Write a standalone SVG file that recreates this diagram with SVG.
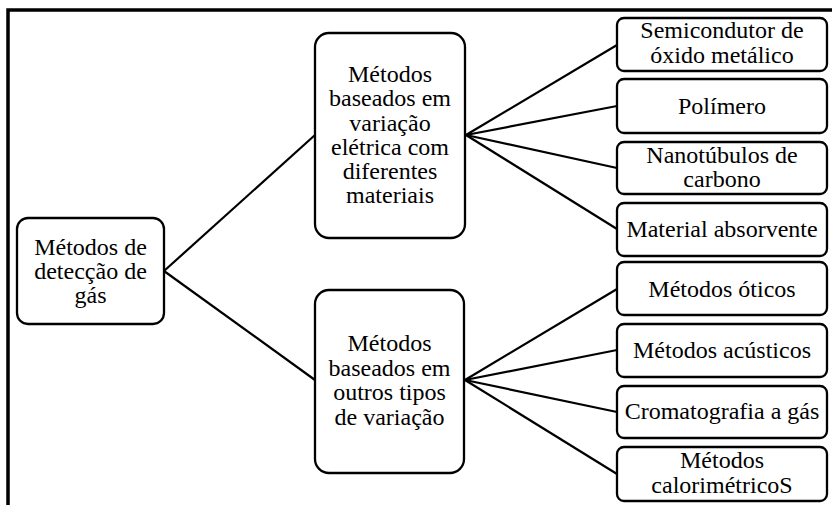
<svg xmlns="http://www.w3.org/2000/svg" width="832" height="505" viewBox="0 0 832 505" font-family="Liberation Serif, Times New Roman, serif">
  <style>
    .box { fill: #ffffff; stroke: #000000; stroke-width: 2.3; }
    .edge { fill: none; stroke: #000000; stroke-width: 2.2; }
    .frame { fill: none; stroke: #000000; stroke-width: 3.5; }
    .lbl { font-size: 24px; fill: #000000; text-anchor: middle; }
  </style>
  <rect width="832" height="505" fill="#ffffff"/>

  <!-- outer frame: top and left edges only -->
  <path class="frame" d="M8 505 V10 H832"/>

  <!-- connectors -->
  <g id="connectors">
    <line class="edge" x1="164" y1="271" x2="315" y2="135"/>
    <line class="edge" x1="164" y1="271" x2="315" y2="380"/>
    <line class="edge" x1="466" y1="135" x2="617" y2="45"/>
    <line class="edge" x1="466" y1="135" x2="617" y2="106"/>
    <line class="edge" x1="466" y1="135" x2="617" y2="168"/>
    <line class="edge" x1="466" y1="135" x2="617" y2="229"/>
    <line class="edge" x1="465" y1="380" x2="617" y2="289"/>
    <line class="edge" x1="465" y1="380" x2="617" y2="350"/>
    <line class="edge" x1="465" y1="380" x2="617" y2="412"/>
    <line class="edge" x1="465" y1="380" x2="617" y2="474"/>
  </g>

  <!-- root -->
  <g id="root" class="lbl" font-family="Liberation Serif, serif">
    <rect class="box" x="17" y="218" width="147" height="106" rx="11"/>
    <text x="90.5" y="255">Métodos de</text>
    <text x="90.5" y="279">detecção de</text>
    <text x="90.5" y="303">gás</text>
  </g>

  <!-- second level -->
  <g id="eletrica" class="lbl" font-family="Liberation Serif, serif">
    <rect class="box" x="315" y="33" width="150" height="205" rx="14"/>
    <text x="390" y="82">Métodos</text>
    <text x="390" y="106">baseados em</text>
    <text x="390" y="130.5">variação</text>
    <text x="390" y="154.5">elétrica com</text>
    <text x="390" y="179">diferentes</text>
    <text x="390" y="203">materiais</text>
  </g>
  <g id="outros" class="lbl" font-family="Liberation Serif, serif">
    <rect class="box" x="315" y="290" width="149" height="183" rx="14"/>
    <text x="389.5" y="351">Métodos</text>
    <text x="389.5" y="375.5">baseados em</text>
    <text x="389.5" y="400">outros tipos</text>
    <text x="389.5" y="424.5">de variação</text>
  </g>

  <!-- leaves -->
  <g id="semicondutor" class="lbl" font-family="Liberation Serif, serif">
    <rect class="box" x="617" y="18" width="210" height="53" rx="7"/>
    <text x="722" y="38">Semicondutor de</text>
    <text x="722" y="63">óxido metálico</text>
  </g>
  <g id="polimero" class="lbl" font-family="Liberation Serif, serif">
    <rect class="box" x="617" y="79" width="210" height="54" rx="7"/>
    <text x="722" y="114">Polímero</text>
  </g>
  <g id="nanotubulos" class="lbl" font-family="Liberation Serif, serif">
    <rect class="box" x="617" y="142" width="210" height="52" rx="7"/>
    <text x="722" y="163">Nanotúbulos de</text>
    <text x="722" y="187">carbono</text>
  </g>
  <g id="absorvente" class="lbl" font-family="Liberation Serif, serif">
    <rect class="box" x="617" y="203" width="210" height="53" rx="7"/>
    <text x="722" y="237">Material absorvente</text>
  </g>
  <g id="oticos" class="lbl" font-family="Liberation Serif, serif">
    <rect class="box" x="617" y="262" width="210" height="53" rx="7"/>
    <text x="722" y="297">Métodos óticos</text>
  </g>
  <g id="acusticos" class="lbl" font-family="Liberation Serif, serif">
    <rect class="box" x="617" y="324" width="210" height="53" rx="7"/>
    <text x="722" y="358">Métodos acústicos</text>
  </g>
  <g id="cromatografia" class="lbl" font-family="Liberation Serif, serif">
    <rect class="box" x="617" y="386" width="210" height="52" rx="7"/>
    <text x="722" y="419">Cromatografia a gás</text>
  </g>
  <g id="calorimetricos" class="lbl" font-family="Liberation Serif, serif">
    <rect class="box" x="617" y="447" width="210" height="54" rx="7"/>
    <text x="722" y="468">Métodos</text>
    <text x="722" y="493">calorimétricoS</text>
  </g>
</svg>
